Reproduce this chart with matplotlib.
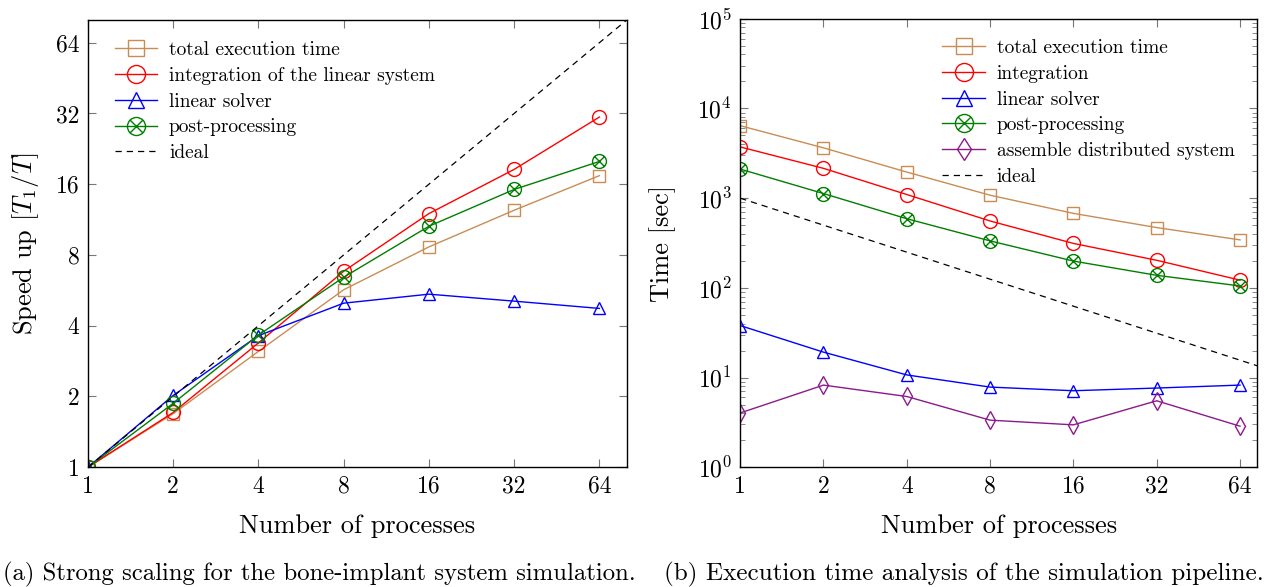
import matplotlib
matplotlib.use("Agg")
import matplotlib.pyplot as plt
from matplotlib.path import Path
import numpy as np

# number of processes
procs = [1, 2, 4, 8, 16, 32, 64]

# (a) speed up values
speed_total = [1, 1.69, 3.11, 5.69, 8.66, 12.4, 17.4]
speed_integration = [1, 1.71, 3.38, 6.82, 12.0, 18.5, 30.9]
speed_solver = [1, 2.02, 3.63, 4.99, 5.45, 5.09, 4.74]
speed_post = [1, 1.87, 3.65, 6.43, 10.6, 15.2, 20.0]

# (b) execution times in seconds
time_total = [6430, 3640, 1954, 1079, 677, 470, 343]
time_integration = [3727, 2150, 1098, 557, 313, 203, 122]
time_solver = [38.0, 19.2, 10.7, 7.83, 7.13, 7.64, 8.24]
time_post = [2110, 1126, 590, 334, 199, 138, 105]
time_assemble = [4.03, 8.24, 6.15, 3.35, 2.97, 5.51, 2.87]

ideal_x = [1, 128]

plt.rcParams["font.family"] = "serif"
plt.rcParams["font.serif"] = ["cmr10"]
plt.rcParams["mathtext.fontset"] = "cm"
plt.rcParams["axes.formatter.use_mathtext"] = True
plt.rcParams["axes.unicode_minus"] = False

c_total = "#c98c55"
c_int = "#ff0000"
c_sol = "#0000ff"
c_post = "#007f00"
c_asm = "#8b1a8b"

# circle with a cross inside (otimes marker)
r = 0.7071
otimes = Path.make_compound_path(
    Path.unit_circle(),
    Path([(-r, -r), (r, r)], [Path.MOVETO, Path.LINETO]),
    Path([(-r, r), (r, -r)], [Path.MOVETO, Path.LINETO]),
)

fig = plt.figure(figsize=(12.74, 5.87), dpi=100)
ax1 = fig.add_axes([0.069, 0.204, 0.423, 0.762])
ax2 = fig.add_axes([0.581, 0.204, 0.406, 0.764])

mk = dict(markerfacecolor="none", lw=1.0, mew=1.0)
leg_kw = dict(frameon=False, fontsize=14, handlelength=2.2, labelspacing=0.4,
              markerscale=1.3, handletextpad=0.6)

# ---- (a) strong scaling
ax1.plot(procs, speed_total, marker="s", ms=9, color=c_total, label="total execution time", **mk)
ax1.plot(procs, speed_integration, marker="o", ms=10, color=c_int, label="integration of the linear system", **mk)
ax1.plot(procs, speed_solver, marker="^", ms=9, color=c_sol, label="linear solver", **mk)
ax1.plot(procs, speed_post, marker=otimes, ms=10, color=c_post, label="post-processing", **mk)
ax1.plot(ideal_x, ideal_x, "--", color="black", lw=0.9, dashes=(5, 4), label="ideal")

ax1.set_xscale("log", base=2)
ax1.set_yscale("log", base=2)
ax1.set_xlim(1, 80)
ax1.set_ylim(1, 80)
ax1.set_xticks(procs)
ax1.set_xticklabels([str(p) for p in procs])
ax1.set_yticks(procs)
ax1.set_yticklabels([str(p) for p in procs])
ax1.minorticks_off()
ax1.set_xlabel("Number of processes", fontsize=19, labelpad=12)
ax1.set_ylabel(r"Speed up $[T_1/T]$", fontsize=19, labelpad=11)
ax1.legend(loc="upper left", bbox_to_anchor=(0.035, 0.97), borderaxespad=0.0, **leg_kw)

# ---- (b) execution time
ax2.plot(procs, time_total, marker="s", ms=9, color=c_total, label="total execution time", **mk)
ax2.plot(procs, time_integration, marker="o", ms=10, color=c_int, label="integration", **mk)
ax2.plot(procs, time_solver, marker="^", ms=9, color=c_sol, label="linear solver", **mk)
ax2.plot(procs, time_post, marker=otimes, ms=10, color=c_post, label="post-processing", **mk)
ax2.plot(procs, time_assemble, marker="d", ms=9, color=c_asm, label="assemble distributed system", **mk)
ax2.plot(ideal_x, [1000 / x for x in ideal_x], "--", color="black", lw=0.9, dashes=(5, 4), label="ideal")

ax2.set_xscale("log", base=2)
ax2.set_yscale("log")
ax2.set_xlim(1, 74)
ax2.set_ylim(1, 1e5)
ax2.set_xticks(procs)
ax2.set_xticklabels([str(p) for p in procs])
ax2.xaxis.set_minor_locator(matplotlib.ticker.NullLocator())
ax2.yaxis.set_minor_locator(matplotlib.ticker.LogLocator(base=10, subs=np.arange(2, 10)))
ax2.yaxis.set_minor_formatter(matplotlib.ticker.NullFormatter())
ax2.set_xlabel("Number of processes", fontsize=19, labelpad=12)
ax2.set_ylabel("Time [sec]", fontsize=19, labelpad=15)
ax2.legend(loc="upper left", bbox_to_anchor=(0.376, 0.972), borderaxespad=0.0, **leg_kw)

for ax in (ax1, ax2):
    ax.tick_params(which="both", direction="in", top=True, right=True, labelsize=17,
                   color="#777777", pad=6)
    ax.tick_params(which="major", length=6)
    ax.tick_params(which="minor", length=3.5)
    for s in ax.spines.values():
        s.set_linewidth(1.0)

fig.text(0.002, 0.012, "(a) Strong scaling for the bone-implant system simulation.", fontsize=17.8)
fig.text(0.521, 0.012, "(b) Execution time analysis of the simulation pipeline.", fontsize=18.1)

fig.savefig("out.png", dpi=100)
